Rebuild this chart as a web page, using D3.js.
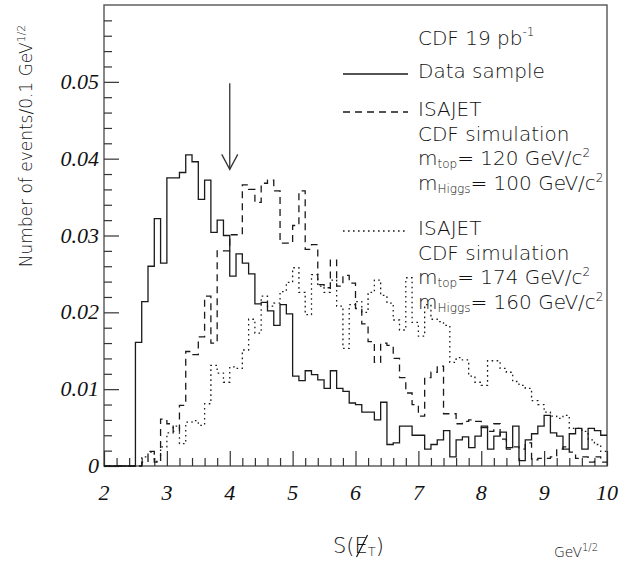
<!DOCTYPE html>
<html>
<head>
<meta charset="utf-8">
<script src="https://cdn.jsdelivr.net/npm/d3@7"></script>
<style>
  body { margin: 0; background: #fff; }
  svg { display: block; }
  .sans { font-family: "DejaVu Sans", Verdana, sans-serif; font-weight: 200; fill: #111; }
  .tick-label { font-family: "Liberation Serif", "Times New Roman", serif; font-style: italic; font-size: 22px; fill: #111; }
</style>
</head>
<body>
<div id="chart"></div>
<script>
// bins of 0.1 from 2.0 to 10.0 (80 bins)
const binStart = 2.0;
const binWidth = 0.1;

// CDF data sample
const dataSample = [
  0, 0, 0, 0, 0,
  0.0161, 0.0214, 0.0260, 0.0322, 0.0264,
  0.0375, 0.0375, 0.0382, 0.0405, 0.0396, 0.0347, 0.0372, 0.0304, 0.0320, 0.0300,
  0.0247, 0.0276, 0.0264, 0.0250, 0.0211, 0.0213, 0.0202, 0.0183, 0.0210, 0.0198,
  0.0117, 0.0111, 0.0124, 0.0119, 0.0112, 0.0101, 0.0124, 0.0101, 0.0097, 0.0082,
  0.0080, 0.0070, 0.0070, 0.0060, 0.0083, 0.0028, 0.0030, 0.0052, 0.0052, 0.0040,
  0.0040, 0.0022, 0.0028, 0.0034, 0.0046, 0.0012, 0.0034, 0.0038, 0.0024, 0.0039,
  0.0052, 0.0022, 0.0039, 0.0044, 0.0024, 0.0052, 0.0007, 0.0034, 0.0042, 0.0052,
  0.0066, 0.0043, 0.0039, 0.0022, 0.0042, 0.0049, 0.0022, 0.0049, 0.0046, 0.0040
];

// ISAJET, mtop = 120, mHiggs = 100
const isajet120 = [
  0, 0, 0, 0, 0,
  0, 0.0005, 0.0019, 0.0005, 0.0061,
  0.0055, 0.0045, 0.0079, 0.0149, 0.0145, 0.0168, 0.0221, 0.0160, 0.0280, 0.0280,
  0.0301, 0.0301, 0.0366, 0.0360, 0.0343, 0.0368, 0.0372, 0.0358, 0.0290, 0.0290,
  0.0313, 0.0358, 0.0282, 0.0288, 0.0236, 0.0232, 0.0268, 0.0234, 0.0248, 0.0238,
  0.0205, 0.0185, 0.0162, 0.0135, 0.0160, 0.0157, 0.0140, 0.0115, 0.0095, 0.0080,
  0.0065, 0.0115, 0.0122, 0.0130, 0.0068, 0.0068, 0.0055, 0.0058, 0.0060, 0.0058,
  0.0050, 0.0045, 0.0055, 0.0035, 0.0022, 0.0025, 0.0022, 0.0030, 0.0008, 0.0010,
  0.0010, 0.0012, 0.0022, 0.0025, 0.0018, 0.0010, 0.0012, 0.0005, 0.0012, 0.0005
];

// ISAJET, mtop = 174, mHiggs = 160
const isajet174 = [
  0, 0, 0, 0, 0,
  0, 0.0012, 0.0018, 0.0006, 0.0025,
  0.0043, 0.0052, 0.0029, 0.0057, 0.0059, 0.0053, 0.0081, 0.0131, 0.0121, 0.0109,
  0.0129, 0.0127, 0.0151, 0.0191, 0.0173, 0.0221, 0.0208, 0.0212, 0.0227, 0.0239,
  0.0258, 0.0226, 0.0197, 0.0249, 0.0234, 0.0226, 0.0242, 0.0208, 0.0153, 0.0210,
  0.0214, 0.0200, 0.0226, 0.0242, 0.0222, 0.0212, 0.0190, 0.0177, 0.0245, 0.0187,
  0.0169, 0.0210, 0.0191, 0.0188, 0.0183, 0.0135, 0.0141, 0.0138, 0.0117, 0.0109,
  0.0105, 0.0137, 0.0137, 0.0127, 0.0122, 0.0110, 0.0105, 0.0101, 0.0085, 0.0080,
  0.0070, 0.0065, 0.0062, 0.0066, 0.0049, 0.0049, 0.0045, 0.0034, 0.0028, 0.0019
];

const yTicks = [0, 0.01, 0.02, 0.03, 0.04, 0.05];
const xTicks = [2, 3, 4, 5, 6, 7, 8, 9, 10];
const arrowAt = 4.0;
const arrowFrom = 0.0498;
const arrowTo = 0.0386;

let visConfig = {
  width: 633,
  height: 571,
  plot: { left: 104, right: 607, top: 5, bottom: 466 }
};
const yMax = 0.06;

let svg = d3.select('#chart')
  .append('svg')
  .attr('width', visConfig.width)
  .attr('height', visConfig.height)
  ;

let xscale = d3.scaleLinear()
  .domain([2, 10])
  .range([visConfig.plot.left, visConfig.plot.right]);

let yscale = d3.scaleLinear()
  .domain([0, yMax])
  .range([visConfig.plot.bottom, visConfig.plot.top]);

// frame
svg.append('rect')
  .attr('x', xscale(2))
  .attr('y', yscale(yMax))
  .attr('width', xscale(10) - xscale(2))
  .attr('height', yscale(0) - yscale(yMax))
  .attr('fill', 'none')
  .attr('stroke', '#555')
  .attr('stroke-width', 1.4);

// axes: ticks point inside the frame
let leftAxis = d3.axisRight(yscale)
  .tickValues(d3.range(0, yMax - 0.001, 0.002))
  .tickSize(8)
  .tickFormat('');
let leftG = svg.append('g')
  .attr('transform', `translate(${xscale(2)},0)`)
  .call(leftAxis);
leftG.selectAll('.tick line')
  .attr('x2', d => (Math.round(d * 1000) % 10 === 0) ? 15 : 8);

let bottomAxis = d3.axisTop(xscale)
  .tickValues(d3.range(2, 10.01, 0.2))
  .tickSize(8)
  .tickFormat('');
let bottomG = svg.append('g')
  .attr('transform', `translate(0,${yscale(0)})`)
  .call(bottomAxis);
bottomG.selectAll('.tick line')
  .attr('y2', d => (Math.abs(d - Math.round(d)) < 1e-6) ? -15 : -8);

[leftG, bottomG].forEach(g => {
  g.select('.domain').remove();
  g.selectAll('.tick line').attr('stroke', '#333').attr('stroke-width', 1.2);
});

// tick labels
svg.selectAll('.ylab')
  .data(yTicks)
  .enter()
  .append('text')
  .attr('class', 'tick-label')
  .attr('x', xscale(2) - 5)
  .attr('y', d => yscale(d) + 7)
  .attr('text-anchor', 'end')
  .text(d => d === 0 ? '0' : d.toFixed(2));

svg.selectAll('.xlab')
  .data(xTicks)
  .enter()
  .append('text')
  .attr('class', 'tick-label')
  .attr('x', d => xscale(d))
  .attr('y', yscale(0) + 34)
  .attr('text-anchor', 'middle')
  .text(d => d);

// histograms as step paths
function stepPoints(values) {
  let pts = [];
  values.forEach((v, i) => {
    pts.push([binStart + i * binWidth, v]);
  });
  pts.push([binStart + values.length * binWidth, values[values.length - 1]]);
  return pts;
}

let stepLine = d3.line()
  .x(d => xscale(d[0]))
  .y(d => yscale(d[1]))
  .curve(d3.curveStepAfter);

let series = [
  { values: isajet174, dash: '1.6,3.4' },
  { values: isajet120, dash: '7,5' },
  { values: dataSample, dash: null }
];

svg.selectAll('.hist')
  .data(series)
  .enter()
  .append('path')
  .attr('class', 'hist')
  .attr('d', d => stepLine(stepPoints(d.values)))
  .attr('fill', 'none')
  .attr('stroke', '#1a1a1a')
  .attr('stroke-width', 1.3)
  .attr('stroke-dasharray', d => d.dash);

// arrow at the cut value
let ax = xscale(arrowAt);
svg.append('line')
  .attr('x1', ax).attr('x2', ax)
  .attr('y1', yscale(arrowFrom)).attr('y2', yscale(arrowTo))
  .attr('stroke', '#333').attr('stroke-width', 1.3);
svg.append('path')
  .attr('d', `M${ax - 8},${yscale(arrowTo) - 15} L${ax},${yscale(arrowTo)} L${ax + 8},${yscale(arrowTo) - 15}`)
  .attr('fill', 'none').attr('stroke', '#333').attr('stroke-width', 1.3);

// legend
const legX = 418;
const lineX1 = 343, lineX2 = 408;
let legend = svg.append('g').attr('class', 'sans').style('font-size', '20px');

let cdf = legend.append('text').attr('x', legX).attr('y', 45);
cdf.append('tspan').text('CDF 19 pb');
cdf.append('tspan').attr('dy', -9).style('font-size', '12px').text('-1');

function massLine(y, sub, val) {
  let t = legend.append('text').attr('x', legX).attr('y', y);
  t.append('tspan').text('m');
  t.append('tspan').attr('dy', 3).style('font-size', '12px').text(sub);
  t.append('tspan').attr('dy', -3).text('= ' + val + ' GeV/c');
  t.append('tspan').attr('dy', -8).style('font-size', '12px').text('2');
}

const legendRows = [
  { y: 78, dash: null, lines: ['Data sample'] },
  { y: 116, dash: '7,5', lines: ['ISAJET', 'CDF simulation'], top: '120', higgs: '100' },
  { y: 235, dash: '1.6,3.4', lines: ['ISAJET', 'CDF simulation'], top: '174', higgs: '160' }
];
const rowStep = 24.5;

legendRows.forEach(r => {
  legend.append('line')
    .attr('x1', lineX1).attr('x2', lineX2)
    .attr('y1', r.y - 4).attr('y2', r.y - 4)
    .attr('stroke', '#1a1a1a').attr('stroke-width', 1.3)
    .attr('stroke-dasharray', r.dash);
  r.lines.forEach((s, i) => {
    legend.append('text').attr('x', legX).attr('y', r.y + i * rowStep).text(s);
  });
  if (r.top) {
    massLine(r.y + 2 * rowStep, 'top', r.top);
    massLine(r.y + 3 * rowStep, 'Higgs', r.higgs);
  }
});

// axis titles
let ytitle = svg.append('text')
  .attr('class', 'sans')
  .attr('transform', 'translate(32,146) rotate(-90)')
  .attr('text-anchor', 'middle')
  .style('font-size', '17px');
ytitle.append('tspan').text('Number of events/0.1 GeV');
ytitle.append('tspan').attr('dy', -7).style('font-size', '11px').text('1/2');

let xtitle = svg.append('text')
  .attr('class', 'sans')
  .attr('x', 333)
  .attr('y', 553)
  .style('font-size', '21px');
xtitle.append('tspan').text('S(');
xtitle.append('tspan').text('E');
xtitle.append('tspan').attr('dy', 3).style('font-size', '13px').text('T');
xtitle.append('tspan').attr('dy', -3).text(')');

// slash across the E (missing transverse energy)
let eStart = xtitle.node().getStartPositionOfChar(2);
svg.append('line')
  .attr('x1', eStart.x + 2).attr('y1', 557)
  .attr('x2', eStart.x + 13).attr('y2', 535)
  .attr('stroke', '#111').attr('stroke-width', 1.2);

let unit = svg.append('text')
  .attr('class', 'sans')
  .attr('x', 554)
  .attr('y', 557)
  .style('font-size', '14px');
unit.append('tspan').text('GeV');
unit.append('tspan').attr('dy', -6).style('font-size', '10px').text('1/2');
</script>
</body>
</html>
